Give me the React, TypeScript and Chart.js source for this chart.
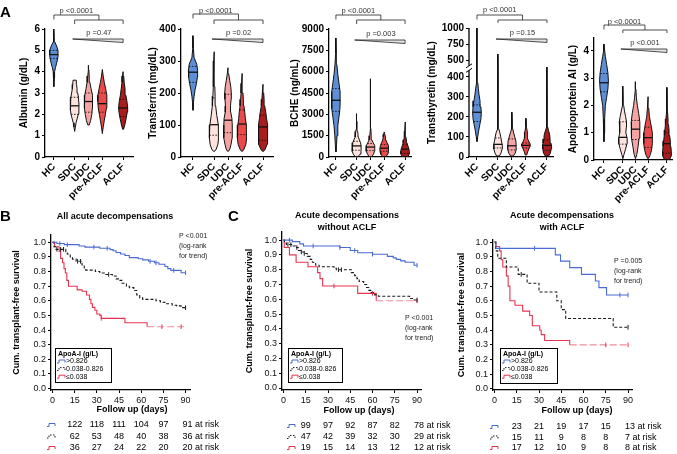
import React, { useEffect, useRef } from 'react';
import { Chart, registerables } from 'chart.js';

Chart.register(...registerables);

const FONT = '"Liberation Sans", Arial, Helvetica, sans-serif';
Chart.defaults.font.family = FONT;

/* ================= Panel A : violin data ================= */
const CATEGORIES = ['HC', 'SDC', 'UDC', 'pre-ACLF', 'ACLF'];
const CATEGORY_POS = [1, 2.5, 3.5, 4.5, 6];

// profiles: [value, relative density 0..1]
const ALB_TICKS = [0, 1, 2, 3, 4, 5, 6];
const ALB_HC = [[3.3, 0], [3.7, 0.06], [4.0, 0.15], [4.2, 0.36], [4.4, 0.6], [4.6, 0.82], [4.8, 0.94], [5.0, 0.9], [5.2, 0.6], [5.4, 0.18], [5.6, 0.09], [6.0, 0]];
const ALB_SDC = [[1.2, 0], [1.4, 0.15], [1.6, 0.3], [1.8, 0.55], [2.0, 0.8], [2.2, 0.92], [2.4, 0.95], [2.6, 0.92], [2.8, 0.85], [3.0, 0.66], [3.2, 0.52], [3.4, 0.42], [3.6, 0.36]];
const ALB_UDC = [[1.5, 0.15], [1.7, 0.45], [2.0, 0.72], [2.3, 0.85], [2.6, 0.94], [2.9, 0.82], [3.2, 0.55], [3.5, 0.3], [3.8, 0.15], [4.1, 0.06], [4.3, 0]];
const ALB_PRE = [[1.1, 0], [1.4, 0.18], [1.7, 0.42], [2.0, 0.66], [2.3, 0.9], [2.6, 1.0], [2.9, 0.97], [3.2, 0.72], [3.5, 0.42], [3.8, 0.18], [4.1, 0]];
const ALB_ACLF = [[1.3, 0.1], [1.5, 0.36], [1.8, 0.66], [2.1, 0.9], [2.3, 1.0], [2.6, 0.85], [2.9, 0.6], [3.2, 0.42], [3.5, 0.24], [3.8, 0.12], [4.0, 0]];
const ALB_MEDIAN = [4.8, 2.4, 2.6, 2.5, 2.3];
const ALB_Q1 = [4.62, 2.0, 2.1, 2.1, 1.9];
const ALB_Q3 = [5.0, 2.8, 3.0, 3.0, 2.7];

const TRF_TICKS = [0, 100, 200, 300, 400];
const TRF_HC = [[146, 0], [170, 0.09], [190, 0.24], [210, 0.45], [230, 0.75], [250, 0.95], [270, 1.0], [290, 0.82], [310, 0.24], [340, 0.09], [379, 0]];
const TRF_SDC = [[18, 0.15], [25, 0.5], [40, 0.85], [60, 1.0], [80, 1.0], [100, 0.9], [130, 0.6], [160, 0.36], [190, 0.24], [220, 0.18], [260, 0.12], [300, 0.06], [329, 0]];
const TRF_UDC = [[18, 0.12], [25, 0.4], [40, 0.66], [60, 0.9], [80, 0.94], [100, 0.9], [120, 0.85], [140, 0.6], [160, 0.55], [180, 0.66], [200, 0.72], [220, 0.6], [240, 0.36], [260, 0.15], [279, 0]];
const TRF_PRE = [[18, 0.12], [25, 0.45], [40, 0.85], [60, 1.0], [80, 1.0], [100, 0.9], [120, 0.72], [140, 0.6], [160, 0.42], [180, 0.3], [200, 0.21], [230, 0.09], [261, 0]];
const TRF_ACLF = [[18, 0.15], [25, 0.5], [40, 0.9], [60, 1.0], [80, 1.0], [100, 0.97], [120, 0.78], [140, 0.6], [160, 0.36], [180, 0.24], [200, 0.15], [227, 0]];
const TRF_MEDIAN = [265, 101, 115, 103, 94];
const TRF_Q1 = [233, 68, 76, 70, 52];
const TRF_Q3 = [283, 185, 196, 147, 131];

const BCHE_TICKS = [0, 1500, 3000, 4500, 6000, 7500, 9000];
const BCHE_HC = [[350, 0], [800, 0.12], [1500, 0.24], [2200, 0.42], [2800, 0.66], [3400, 0.88], [4000, 0.95], [4600, 0.92], [5200, 0.66], [5800, 0.42], [6500, 0.21], [7300, 0.09], [8370, 0]];
const BCHE_SDC = [[30, 0.3], [200, 0.75], [400, 0.94], [600, 1.0], [800, 0.97], [1000, 0.85], [1200, 0.6], [1400, 0.36], [1600, 0.3], [1800, 0.21], [2000, 0.09], [2500, 0.05], [3050, 0]];
const BCHE_UDC = [[30, 0.3], [200, 0.66], [400, 0.9], [600, 0.97], [800, 0.9], [1000, 0.6], [1200, 0.3], [1500, 0.15], [2000, 0.09], [2500, 0.06], [3500, 0.03], [5500, 0]];
const BCHE_PRE = [[30, 0.36], [200, 0.78], [400, 0.94], [600, 0.97], [800, 0.85], [1000, 0.6], [1200, 0.36], [1400, 0.24], [1600, 0.12], [1760, 0]];
const BCHE_ACLF = [[30, 0.6], [200, 0.9], [400, 0.94], [600, 0.82], [800, 0.6], [1000, 0.42], [1200, 0.3], [1400, 0.18], [1600, 0.12], [1800, 0.06], [2460, 0]];
const BCHE_MEDIAN = [3990, 780, 700, 620, 550];
const BCHE_Q1 = [3210, 480, 450, 400, 250];
const BCHE_Q3 = [4810, 1100, 950, 870, 850];

const TTR_TICKS = [0, 100, 200, 300, 400, 500, 750, 1000];
const TTR_HC = [[77, 0], [100, 0.15], [130, 0.36], [160, 0.6], [190, 0.85], [220, 0.94], [250, 0.85], [280, 0.66], [310, 0.45], [340, 0.3], [370, 0.18], [400, 0.09], [430, 0.05], [500, 0.03], [1000, 0.015]];
const TTR_SDC = [[5, 0.3], [20, 0.66], [40, 0.9], [60, 0.94], [80, 0.75], [100, 0.6], [120, 0.42], [140, 0.18], [170, 0.09], [250, 0.045], [400, 0.03], [601, 0]];
const TTR_UDC = [[5, 0.3], [20, 0.72], [40, 0.94], [60, 0.9], [80, 0.85], [100, 0.6], [120, 0.36], [140, 0.18], [170, 0.09], [223, 0]];
const TTR_PRE = [[10, 0.15], [25, 0.36], [40, 0.6], [55, 0.94], [65, 0.9], [80, 0.55], [95, 0.3], [110, 0.36], [125, 0.24], [150, 0.09], [193, 0]];
const TTR_ACLF = [[5, 0.36], [20, 0.75], [40, 0.9], [55, 1.0], [70, 0.85], [90, 0.66], [110, 0.6], [130, 0.36], [150, 0.15], [200, 0.06], [300, 0.03], [460, 0]];
const TTR_MEDIAN = [223, 63, 56, 58, 58];
const TTR_Q1 = [177, 45, 35, 45, 32];
const TTR_Q3 = [260, 95, 90, 70, 85];

const APO_TICKS = [0, 1, 2, 3, 4];
const APO_HC = [[0.67, 0], [1.0, 0.06], [1.5, 0.15], [2.0, 0.3], [2.3, 0.6], [2.6, 0.88], [2.9, 1.0], [3.2, 0.88], [3.5, 0.6], [3.8, 0.3], [4.0, 0.15], [4.25, 0]];
const APO_SDC = [[0.05, 0], [0.2, 0.24], [0.4, 0.6], [0.6, 0.94], [0.8, 0.97], [1.0, 0.66], [1.2, 0.78], [1.4, 0.82], [1.6, 0.6], [1.8, 0.36], [2.0, 0.18], [2.3, 0.09], [2.71, 0]];
const APO_UDC = [[0.05, 0], [0.2, 0.3], [0.5, 0.6], [0.8, 0.82], [1.1, 1.0], [1.4, 0.97], [1.7, 0.74], [2.0, 0.42], [2.3, 0.2], [2.6, 0.09], [2.87, 0]];
const APO_PRE = [[0.05, 0.06], [0.2, 0.53], [0.4, 0.82], [0.6, 0.97], [0.8, 1.0], [1.0, 0.94], [1.2, 0.76], [1.4, 0.53], [1.6, 0.3], [1.9, 0.15], [2.32, 0]];
const APO_ACLF = [[0.02, 0.6], [0.15, 0.97], [0.3, 1.0], [0.5, 0.88], [0.7, 0.76], [0.9, 0.6], [1.1, 0.47], [1.3, 0.35], [1.5, 0.24], [1.8, 0.12], [2.2, 0.06], [2.66, 0]];
const APO_MEDIAN = [2.83, 0.83, 1.13, 0.82, 0.6];
const APO_Q1 = [2.5, 0.58, 0.75, 0.46, 0.25];
const APO_Q3 = [3.17, 1.4, 1.45, 1.2, 1.0];

/* ================= Panels B / C : Kaplan-Meier data ================= */
const KM_X_TICKS = [0, 15, 30, 45, 60, 75, 90];
const KM_Y_TICKS = [0, 0.1, 0.2, 0.3, 0.4, 0.5, 0.6, 0.7, 0.8, 0.9, 1.0];
const RISK_DAYS = [15, 30, 45, 60, 75, 90];
const LEGEND_LABELS = ['>0.826', '0.038-0.826', '\u22640.038'];

// B: all acute decompensations
const B_HIGH_T = [0, 3, 8, 18, 22, 32, 39, 41, 43, 46, 49, 52, 58, 61, 65, 69, 72, 76, 78, 80, 87];
const B_HIGH_S = [1.0, 0.992, 0.984, 0.975, 0.967, 0.959, 0.95, 0.942, 0.93, 0.92, 0.91, 0.895, 0.888, 0.88, 0.87, 0.86, 0.85, 0.835, 0.82, 0.808, 0.792];
const B_HIGH_CENSOR = [5, 10, 28, 37, 66, 70, 82, 90];
const B_MID_T = [0, 1, 2, 9, 10, 12, 13.5, 16, 20, 21.5, 22.5, 29, 32, 35, 40.5, 43, 45, 47, 50, 52, 55, 57, 59, 61, 70, 73, 76, 81, 84, 87];
const B_MID_S = [1.0, 0.97, 0.952, 0.935, 0.92, 0.9, 0.885, 0.87, 0.845, 0.825, 0.81, 0.8, 0.79, 0.78, 0.77, 0.75, 0.74, 0.72, 0.7, 0.69, 0.67, 0.64, 0.62, 0.61, 0.6, 0.59, 0.58, 0.57, 0.565, 0.553];
const B_MID_CENSOR = [3, 5.5, 7.5, 17, 19, 38, 90];
const B_LOW_T = [0, 1.5, 4.5, 5.5, 6.8, 7.8, 8.7, 9.7, 10.8, 16.7, 20, 23, 25, 26, 27, 28.7, 30, 32, 33, 49, 64];
const B_LOW_S = [1.0, 0.97, 0.94, 0.89, 0.86, 0.82, 0.79, 0.74, 0.7, 0.675, 0.665, 0.64, 0.61, 0.58, 0.555, 0.535, 0.51, 0.5, 0.48, 0.45, 0.423];
const B_LOW_CENSOR = [33, 74, 87];
const B_RISK_HIGH = [122, 118, 111, 104, 97, 91];
const B_RISK_MID = [62, 53, 48, 40, 38, 36];
const B_RISK_LOW = [36, 27, 24, 22, 20, 20];

// C left: without ACLF
const C1_HIGH_T = [0, 6, 11, 13.5, 38, 45, 50, 60, 70, 74, 76, 79, 82, 88];
const C1_HIGH_S = [1.0, 0.99, 0.975, 0.96, 0.95, 0.93, 0.915, 0.905, 0.89, 0.88, 0.87, 0.86, 0.85, 0.83];
const C1_HIGH_CENSOR = [4, 20, 38, 48, 60, 90];
const C1_MID_T = [0, 0.6, 2, 5.5, 8, 10, 12, 14, 16, 18, 19.5, 21.7, 24, 34, 35.6, 45.7, 48, 49.5, 51, 54, 56, 57.5, 59, 61.5, 64, 85, 88];
const C1_MID_S = [1.0, 0.98, 0.97, 0.96, 0.95, 0.93, 0.92, 0.91, 0.89, 0.87, 0.85, 0.83, 0.82, 0.81, 0.8, 0.78, 0.76, 0.74, 0.72, 0.7, 0.68, 0.66, 0.645, 0.63, 0.62, 0.605, 0.595];
const C1_MID_CENSOR = [3, 5, 9, 12, 14, 37, 39, 90];
const C1_LOW_T = [0, 0.5, 4, 8.5, 16.5, 23, 24.6, 26.4, 50, 62.5];
const C1_LOW_S = [1.0, 0.95, 0.9, 0.85, 0.82, 0.78, 0.74, 0.69, 0.64, 0.59];
const C1_LOW_CENSOR = [34, 60, 90];
const C1_RISK_HIGH = [99, 97, 92, 87, 82, 78];
const C1_RISK_MID = [47, 42, 39, 32, 30, 29];
const C1_RISK_LOW = [19, 15, 14, 13, 12, 12];

// C right: with ACLF
const C2_HIGH_T = [0, 1, 41, 44.5, 50.7, 58.6, 68, 70.4, 75.5];
const C2_HIGH_S = [1.0, 0.957, 0.913, 0.87, 0.826, 0.78, 0.735, 0.69, 0.64];
const C2_HIGH_CENSOR = [27, 84.5, 90];
const C2_MID_T = [0, 0.7, 2.2, 8, 16, 22, 30, 42, 45, 48, 80];
const C2_MID_S = [1.0, 0.94, 0.89, 0.83, 0.78, 0.72, 0.66, 0.6, 0.54, 0.48, 0.42];
const C2_MID_CENSOR = [18, 90];
const C2_LOW_T = [0, 1, 3.4, 4.5, 5.6, 8, 9.2, 10.4, 13.8, 19, 23.7, 25.5, 30.5, 31.5, 33.8, 50.7];
const C2_LOW_S = [1.0, 0.97, 0.94, 0.88, 0.83, 0.77, 0.7, 0.6, 0.57, 0.53, 0.5, 0.43, 0.4, 0.37, 0.33, 0.3];
const C2_LOW_CENSOR = [75, 90];
const C2_RISK_HIGH = [23, 21, 19, 17, 15, 13];
const C2_RISK_MID = [15, 11, 9, 8, 8, 7];
const C2_RISK_LOW = [17, 12, 10, 9, 8, 8];

/* ================= styles ================= */
const VIOLIN_COLORS = ['#5d8fd6', '#fde2de', '#f6a4a3', '#ec4a4a', '#a71c1c'];
const KM_BLUE = '#4a6bd1';
const KM_BLACK = '#1a1a1a';
const KM_RED = '#e8334f';
const KM_PINK = '#f28a9c';

/* ================= helpers ================= */
type Prof = number[][];
function densityAt(p: Prof, v: number) {
  if (v <= p[0][0]) return p[0][1];
  for (let i = 1; i < p.length; i++) {
    if (v <= p[i][0]) {
      const [v0, d0] = p[i - 1];
      const [v1, d1] = p[i];
      return d0 + ((d1 - d0) * (v - v0)) / (v1 - v0);
    }
  }
  return p[p.length - 1][1];
}
function stepAt(t: number[], s: number[], c: number) {
  let val = s[0];
  for (let i = 0; i < t.length; i++) if (t[i] <= c) val = s[i];
  return val;
}
function ttrTf(v: number) {
  if (v <= 400) return v;
  if (v >= 500) return 480 + (v - 500) * 0.326;
  return 400 + (v - 400) * 0.8;
}

const violinAnnot = {
  id: 'violinAnnot',
  afterDraw(chart: any, _a: any, o: any) {
    const { ctx, scales, chartArea } = chart;
    const x = scales.x;
    const y = scales.y;
    const [tY, bY, b2Y, tickB, wTY, wY] = o.ann;
    const xHC = x.getPixelForValue(CATEGORY_POS[0]);
    const xS = x.getPixelForValue(CATEGORY_POS[1]);
    const xA = x.getPixelForValue(CATEGORY_POS[4]);
    const mid = (xS + xA) / 2;
    ctx.save();
    ctx.strokeStyle = '#222';
    ctx.lineWidth = 0.8;
    ctx.beginPath();
    ctx.moveTo(xHC, bY + 4.5);
    ctx.lineTo(xHC, bY);
    ctx.lineTo(mid, bY);
    ctx.lineTo(mid, b2Y);
    ctx.moveTo(xS, tickB);
    ctx.lineTo(xS, b2Y);
    ctx.lineTo(xA, b2Y);
    ctx.lineTo(xA, tickB);
    ctx.stroke();
    ctx.beginPath();
    ctx.moveTo(xS - 2, wY);
    ctx.lineTo(xA, wY);
    ctx.lineTo(xA, wY + 3.5);
    ctx.closePath();
    ctx.fillStyle = '#e4e4e4';
    ctx.fill();
    ctx.stroke();
    ctx.fillStyle = '#333';
    ctx.font = `7.5px ${FONT}`;
    ctx.textAlign = 'center';
    ctx.textBaseline = 'middle';
    ctx.fillText(o.pTop, (xHC + mid) / 2, tY);
    ctx.fillText(o.pTrend, (xS + xA) / 2, wTY);
    if (o.broken) {
      const ax = chartArea.left;
      const yLow = y.getPixelForValue(ttrTf(440));
      const yHigh = y.getPixelForValue(ttrTf(468));
      ctx.strokeStyle = '#000';
      ctx.lineWidth = 1.3;
      ctx.beginPath();
      ctx.moveTo(ax, chartArea.bottom);
      ctx.lineTo(ax, yLow);
      ctx.moveTo(ax, yHigh);
      ctx.lineTo(ax, chartArea.top);
      ctx.stroke();
      ctx.lineWidth = 1;
      ctx.beginPath();
      ctx.moveTo(ax - 3, yLow + 2);
      ctx.lineTo(ax + 3, yLow - 2);
      ctx.moveTo(ax - 3, yHigh + 2);
      ctx.lineTo(ax + 3, yHigh - 2);
      ctx.stroke();
    }
    ctx.restore();
  },
};

interface ViolinSpec {
  left: number; top: number; width: number; height: number;
  title: string; ticks: number[]; tf?: (v: number) => number;
  yMax: number; xMin: number; xMax: number;
  profiles: Prof[]; medians: number[]; q1: number[]; q3: number[];
  halfWidth: number; axisW: number; axisH: number; padTop: number; padRight: number; titlePad: number;
  pTop: string; pTrend: string; ann: number[]; broken?: boolean;
}

function buildViolin(spec: ViolinSpec) {
  const tf = spec.tf || ((v: number) => v);
  const datasets: any[] = [];
  spec.profiles.forEach((prof, i) => {
    const pos = CATEGORY_POS[i];
    const hw = spec.halfWidth;
    const right = prof.map(([v, d]) => ({ x: pos + d * hw, y: tf(v) }));
    const left = [...prof].reverse().map(([v, d]) => ({ x: pos - d * hw, y: tf(v) }));
    datasets.push({
      data: [...right, ...left, right[0]],
      borderColor: '#111', borderWidth: 1, backgroundColor: VIOLIN_COLORS[i],
      fill: 'shape', pointRadius: 0, order: 2,
    });
    const stat = (v: number, dashed: boolean) => {
      const d = densityAt(prof, v) * hw;
      datasets.push({
        data: [{ x: pos - d, y: tf(v) }, { x: pos + d, y: tf(v) }],
        borderColor: '#111', borderWidth: dashed ? 0.9 : 1.3, borderDash: dashed ? [1.5, 1.5] : [],
        pointRadius: 0, fill: false, order: 1,
      });
    };
    stat(spec.q1[i], true);
    stat(spec.q3[i], true);
    stat(spec.medians[i], false);
  });
  const tickVals = spec.ticks.map(tf);
  return {
    type: 'line',
    data: { datasets },
    options: {
      responsive: false, animation: false, events: [],
      layout: { padding: { left: 0, top: spec.padTop, right: spec.padRight, bottom: 0 } },
      plugins: {
        legend: { display: false }, tooltip: { enabled: false },
        violinAnnot: { ann: spec.ann, pTop: spec.pTop, pTrend: spec.pTrend, broken: spec.broken },
      },
      scales: {
        x: {
          type: 'linear', min: spec.xMin, max: spec.xMax, bounds: 'data',
          afterBuildTicks: (s: any) => { s.ticks = CATEGORY_POS.map((v) => ({ value: v })); },
          ticks: {
            callback: (_v: any, i: number) => CATEGORIES[i], autoSkip: false,
            minRotation: 45, maxRotation: 45, padding: 1, color: '#000',
            font: { family: FONT, size: 10, weight: 'bold' },
          },
          grid: { drawOnChartArea: false, tickLength: 3, color: '#000', lineWidth: 1 },
          border: { color: '#000', width: 1.3 },
          afterFit: (s: any) => { s.height = spec.axisH; },
        },
        y: {
          type: 'linear', min: 0, max: spec.yMax, bounds: 'data',
          afterBuildTicks: (s: any) => { s.ticks = tickVals.map((v) => ({ value: v })); },
          ticks: {
            callback: (_v: any, i: number) => String(spec.ticks[i]), autoSkip: false,
            padding: 2, color: '#000', font: { family: FONT, size: 10, weight: 'bold' },
          },
          grid: { drawOnChartArea: false, tickLength: 3, color: '#000', lineWidth: 1 },
          border: { display: !spec.broken, color: '#000', width: 1.3 },
          title: {
            display: true, text: spec.title, color: '#000',
            font: { family: FONT, size: 10, weight: 'bold' },
            padding: { top: spec.titlePad, bottom: 0 },
          },
          afterFit: (s: any) => { s.width = spec.axisW; },
        },
      },
    },
    plugins: [violinAnnot],
  };
}

function riskSymbol(ctx: any, x: number, y: number, color: string, dashed: boolean) {
  ctx.save();
  ctx.strokeStyle = color;
  ctx.lineWidth = 1;
  ctx.setLineDash(dashed ? [1.5, 1.5] : []);
  ctx.beginPath();
  ctx.moveTo(x, y + 1.5);
  ctx.lineTo(x + 2, y + 1.5);
  ctx.lineTo(x + 2, y - 1.5);
  ctx.lineTo(x + 8, y - 1.5);
  ctx.lineTo(x + 8, y + 1);
  ctx.stroke();
  ctx.restore();
}

const kmAnnot = {
  id: 'kmAnnot',
  afterDraw(chart: any, _a: any, o: any) {
    const { ctx, scales } = chart;
    const x = scales.x;
    ctx.save();
    ctx.fillStyle = '#000';
    ctx.textBaseline = 'middle';
    ctx.font = `bold 9px ${FONT}`;
    ctx.textAlign = 'center';
    o.title.forEach((t: string, i: number) => ctx.fillText(t, o.titleX, o.titleY + i * 11.5));
    ctx.fillText('Follow up (days)', o.xTitleX, o.xTitleY);
    ctx.font = `7px ${FONT}`;
    ctx.textAlign = 'left';
    ctx.fillStyle = '#222';
    o.pText.forEach((t: string, i: number) => ctx.fillText(t, o.pX, o.pY + i * 9.8));
    // legend box
    const [bx, by, bw, bh] = o.box;
    ctx.fillStyle = '#fff';
    ctx.fillRect(bx, by, bw, bh);
    ctx.strokeStyle = '#000';
    ctx.lineWidth = 1;
    ctx.strokeRect(bx + 0.5, by + 0.5, bw, bh);
    ctx.fillStyle = '#000';
    ctx.font = `bold 7px ${FONT}`;
    ctx.fillText('ApoA-I (g/L)', bx + 3, by + 6);
    ctx.font = `7px ${FONT}`;
    o.groups.forEach((g: any, i: number) => {
      const yy = by + 13.5 + i * 7.6;
      riskSymbol(ctx, bx + 2, yy, g.color, g.dashed);
      ctx.fillStyle = '#000';
      ctx.fillText(LEGEND_LABELS[i], bx + 11, yy);
    });
    // at-risk table
    ctx.font = `9px ${FONT}`;
    o.groups.forEach((g: any, i: number) => {
      const yy = o.riskY[i];
      riskSymbol(ctx, o.riskSymX, yy, g.color, g.dashed);
      ctx.fillStyle = '#000';
      g.risk.forEach((n: number, j: number) => {
        const px = x.getPixelForValue(RISK_DAYS[j]);
        if (j < g.risk.length - 1) {
          ctx.textAlign = 'center';
          ctx.fillText(String(n), px, yy);
        } else {
          ctx.textAlign = 'left';
          ctx.fillText(`${n} at risk`, px - 3, yy);
        }
      });
    });
    ctx.restore();
  },
};

interface KMGroup { t: number[]; s: number[]; censor: number[]; risk: number[]; color: string; dashed: boolean; tailFrom?: number }
interface KMSpec {
  left: number; top: number; width: number; height: number;
  yMin: number; yMax: number; axisW: number; axisH: number; padTop: number; padRight: number; titlePad: number;
  title: string[]; titleX: number; titleY: number; pText: string[]; pX: number; pY: number;
  box: number[]; xTitleX: number; xTitleY: number; riskY: number[]; riskSymX: number;
  groups: KMGroup[];
}

function buildKM(spec: KMSpec) {
  const datasets: any[] = [];
  spec.groups.forEach((g, gi) => {
    const pts = g.t.map((t, i) => ({ x: t, y: g.s[i] }));
    pts.push({ x: 90, y: g.s[g.s.length - 1] });
    const tail = g.tailFrom;
    datasets.push({
      data: pts, stepped: 'before', borderColor: g.color, borderWidth: 1.1,
      borderDash: g.dashed ? [3, 2] : [], pointRadius: 0, fill: false, order: 2 + gi,
      segment: tail !== undefined ? {
        borderDash: (c: any) => (c.p0.parsed.x >= tail - 0.01 ? [7, 3] : undefined),
        borderColor: (c: any) => (c.p0.parsed.x >= tail - 0.01 ? KM_PINK : undefined),
      } : undefined,
    });
    datasets.push({
      data: g.censor.map((c) => ({ x: c, y: stepAt(g.t, g.s, c) })),
      showLine: false, pointStyle: 'line', rotation: 90, pointRadius: 2.3,
      pointBorderColor: g.color, pointBorderWidth: 1, borderColor: g.color, order: 1,
    });
  });
  return {
    type: 'line',
    data: { datasets },
    options: {
      responsive: false, animation: false, events: [],
      layout: { padding: { left: 0, top: spec.padTop, right: spec.padRight, bottom: 0 } },
      plugins: {
        legend: { display: false }, tooltip: { enabled: false },
        kmAnnot: {
          title: spec.title, titleX: spec.titleX, titleY: spec.titleY, pText: spec.pText, pX: spec.pX, pY: spec.pY,
          box: spec.box, xTitleX: spec.xTitleX, xTitleY: spec.xTitleY, riskY: spec.riskY, riskSymX: spec.riskSymX,
          groups: spec.groups,
        },
      },
      scales: {
        x: {
          type: 'linear', min: -1, max: 93, bounds: 'data',
          afterBuildTicks: (s: any) => { s.ticks = KM_X_TICKS.map((v) => ({ value: v })); },
          ticks: { callback: (v: any) => String(v), autoSkip: false, maxRotation: 0, padding: 2, color: '#111', font: { family: FONT, size: 9 } },
          grid: { drawOnChartArea: false, tickLength: 3, color: '#000', lineWidth: 1 },
          border: { color: '#000', width: 1.3 },
          afterFit: (s: any) => { s.height = spec.axisH; },
        },
        y: {
          type: 'linear', min: spec.yMin, max: spec.yMax, bounds: 'data',
          afterBuildTicks: (s: any) => { s.ticks = KM_Y_TICKS.map((v) => ({ value: v })); },
          ticks: { callback: (v: any) => Number(v).toFixed(1), autoSkip: false, padding: 2, color: '#111', font: { family: FONT, size: 9 } },
          grid: { drawOnChartArea: false, tickLength: 3, color: '#000', lineWidth: 1 },
          border: { color: '#000', width: 1.3 },
          title: {
            display: true, text: 'Cum. transplant-free survival', color: '#000',
            font: { family: FONT, size: 9, weight: 'bold' }, padding: { top: spec.titlePad, bottom: 0 },
          },
          afterFit: (s: any) => { s.width = spec.axisW; },
        },
      },
    },
    plugins: [kmAnnot],
  };
}

/* ================= panel specs ================= */
const VIOLINS: ViolinSpec[] = [
  {
    left: 0, top: 0, width: 140, height: 210, title: 'Albumin (g/dL)', ticks: ALB_TICKS, yMax: 6,
    xMin: 0.357, xMax: 6.714, profiles: [ALB_HC, ALB_SDC, ALB_UDC, ALB_PRE, ALB_ACLF],
    medians: ALB_MEDIAN, q1: ALB_Q1, q3: ALB_Q3, halfWidth: 0.33, axisW: 45, axisH: 53, padTop: 29, padRight: 7, titlePad: 18,
    pTop: 'p <0.0001', pTrend: 'p =0.47', ann: [11, 15, 20, 24, 33, 39],
  },
  {
    left: 140, top: 0, width: 140, height: 210, title: 'Transferrin (mg/dL)', ticks: TRF_TICKS, yMax: 400,
    xMin: 0.143, xMax: 6.714, profiles: [TRF_HC, TRF_SDC, TRF_UDC, TRF_PRE, TRF_ACLF],
    medians: TRF_MEDIAN, q1: TRF_Q1, q3: TRF_Q3, halfWidth: 0.33, axisW: 41, axisH: 53, padTop: 29, padRight: 7, titlePad: 7,
    pTop: 'p <0.0001', pTrend: 'p =0.02', ann: [11, 14, 20, 24, 33, 39],
  },
  {
    left: 280, top: 0, width: 135, height: 210, title: 'BCHE (ng/mL)', ticks: BCHE_TICKS, yMax: 9000,
    xMin: 0.5, xMax: 6.43, profiles: [BCHE_HC, BCHE_SDC, BCHE_UDC, BCHE_PRE, BCHE_ACLF],
    medians: BCHE_MEDIAN, q1: BCHE_Q1, q3: BCHE_Q3, halfWidth: 0.33, axisW: 49, axisH: 53, padTop: 29, padRight: 4, titlePad: 9,
    pTop: 'p <0.0001', pTrend: 'p =0.003', ann: [11, 15, 20, 24, 34, 40],
  },
  {
    left: 415, top: 0, width: 145, height: 210, title: 'Transthyretin (mg/dL)', ticks: TTR_TICKS, tf: ttrTf, yMax: ttrTf(1000),
    xMin: 0.43, xMax: 6.43, profiles: [TTR_HC, TTR_SDC, TTR_UDC, TTR_PRE, TTR_ACLF],
    medians: TTR_MEDIAN, q1: TTR_Q1, q3: TTR_Q3, halfWidth: 0.33, axisW: 54, axisH: 53, padTop: 28, padRight: 7, titlePad: 11,
    pTop: 'p <0.0001', pTrend: 'p =0.15', ann: [10, 15, 20, 23, 33, 39], broken: true,
  },
  {
    left: 560, top: 0, width: 117, height: 210, title: 'Apolipoprotein AI (g/L)', ticks: APO_TICKS, yMax: 4.47,
    xMin: 0.206, xMax: 6.4, profiles: [APO_HC, APO_SDC, APO_UDC, APO_PRE, APO_ACLF],
    medians: APO_MEDIAN, q1: APO_Q1, q3: APO_Q3, halfWidth: 0.35, axisW: 34, axisH: 50, padTop: 38, padRight: 5, titlePad: 7,
    pTop: 'p <0.0001', pTrend: 'p <0.001', ann: [22, 25, 30, 33, 43, 49],
  },
];

const KMS: KMSpec[] = [
  {
    left: 0, top: 200, width: 225, height: 254, yMin: -0.01, yMax: 1.05, axisW: 51, axisH: 64, padTop: 35, padRight: 35, titlePad: 11,
    title: ['All acute decompensations'], titleX: 115, titleY: 17,
    pText: ['P <0.001', '(log-rank', 'for trend)'], pX: 179, pY: 36,
    box: [55, 148, 56, 34], xTitleX: 132, xTitleY: 210, riskY: [225, 236.5, 248], riskSymX: 47,
    groups: [
      { t: B_HIGH_T, s: B_HIGH_S, censor: B_HIGH_CENSOR, risk: B_RISK_HIGH, color: KM_BLUE, dashed: false },
      { t: B_MID_T, s: B_MID_S, censor: B_MID_CENSOR, risk: B_RISK_MID, color: KM_BLACK, dashed: true },
      { t: B_LOW_T, s: B_LOW_S, censor: B_LOW_CENSOR, risk: B_RISK_LOW, color: KM_RED, dashed: false, tailFrom: 64 },
    ],
  },
  {
    left: 225, top: 200, width: 232, height: 254, yMin: -0.0135, yMax: 1.055, axisW: 57, axisH: 64, padTop: 32, padRight: 35.5, titlePad: 19,
    title: ['Acute decompensations', 'without ACLF'], titleX: 122, titleY: 16,
    pText: ['P <0.001', '(log-rank', 'for trend)'], pX: 180, pY: 118,
    box: [63, 148, 54, 34], xTitleX: 134, xTitleY: 211, riskY: [226, 237, 248], riskSymX: 62,
    groups: [
      { t: C1_HIGH_T, s: C1_HIGH_S, censor: C1_HIGH_CENSOR, risk: C1_RISK_HIGH, color: KM_BLUE, dashed: false },
      { t: C1_MID_T, s: C1_MID_S, censor: C1_MID_CENSOR, risk: C1_RISK_MID, color: KM_BLACK, dashed: true },
      { t: C1_LOW_T, s: C1_LOW_S, censor: C1_LOW_CENSOR, risk: C1_RISK_LOW, color: KM_RED, dashed: false, tailFrom: 62.5 },
    ],
  },
  {
    left: 445, top: 200, width: 232, height: 254, yMin: -0.007, yMax: 1.014, axisW: 48, axisH: 64, padTop: 40, padRight: 44.5, titlePad: 11,
    title: ['Acute decompensations', 'with ACLF'], titleX: 117, titleY: 16,
    pText: ['P =0.005', '(log-rank', 'for trend)'], pX: 169, pY: 61,
    box: [55, 148, 57, 35], xTitleX: 132, xTitleY: 211, riskY: [227, 237.5, 248], riskSymX: 45,
    groups: [
      { t: C2_HIGH_T, s: C2_HIGH_S, censor: C2_HIGH_CENSOR, risk: C2_RISK_HIGH, color: KM_BLUE, dashed: false },
      { t: C2_MID_T, s: C2_MID_S, censor: C2_MID_CENSOR, risk: C2_RISK_MID, color: KM_BLACK, dashed: true },
      { t: C2_LOW_T, s: C2_LOW_S, censor: C2_LOW_CENSOR, risk: C2_RISK_LOW, color: KM_RED, dashed: false, tailFrom: 50.7 },
    ],
  },
];

function ChartCanvas({ left, top, width, height, build }: { left: number; top: number; width: number; height: number; build: () => any }) {
  const ref = useRef<HTMLCanvasElement>(null);
  useEffect(() => {
    const chart = new Chart(ref.current as HTMLCanvasElement, build());
    return () => chart.destroy();
  }, []);
  return (
    <canvas ref={ref} width={width} height={height}
      style={{ position: 'absolute', left, top, width, height }} />
  );
}

const letterStyle: React.CSSProperties = {
  position: 'absolute', fontFamily: FONT, fontWeight: 'bold', fontSize: 15, lineHeight: '15px', color: '#000',
};

export default function App() {
  return (
    <div style={{ position: 'absolute', left: 0, top: 0, width: 677, height: 454, background: '#fff', overflow: 'hidden' }}>
      {KMS.map((k, i) => (
        <ChartCanvas key={'k' + i} left={k.left} top={k.top} width={k.width} height={k.height} build={() => buildKM(k)} />
      ))}
      {VIOLINS.map((v, i) => (
        <ChartCanvas key={'v' + i} left={v.left} top={v.top} width={v.width} height={v.height} build={() => buildViolin(v)} />
      ))}
      <div style={{ ...letterStyle, left: 0, top: 4 }}>A</div>
      <div style={{ ...letterStyle, left: 0, top: 208 }}>B</div>
      <div style={{ ...letterStyle, left: 228, top: 208 }}>C</div>
    </div>
  );
}
